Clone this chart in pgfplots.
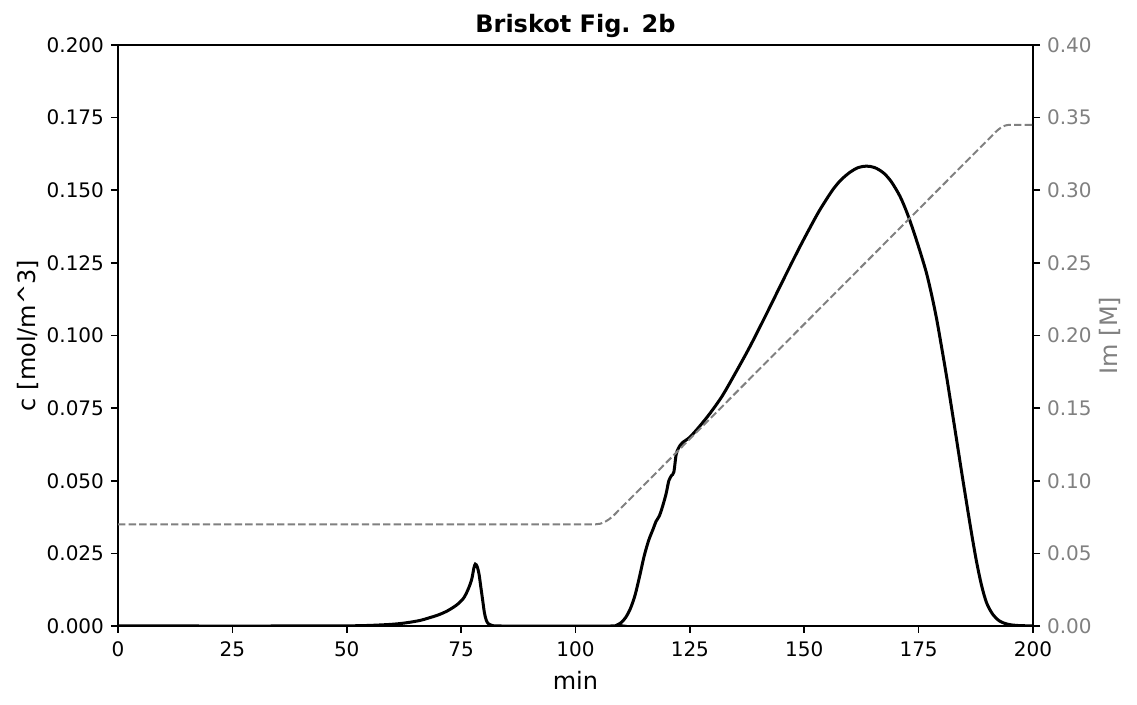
\documentclass[border=0pt]{standalone}
\usepackage{pgfplots}
\pgfplotsset{compat=1.18}
\usepackage{fontspec}
\setmainfont{DejaVu Sans}
\definecolor{mplgray}{HTML}{808080}
\begin{document}
\begin{tikzpicture}
\useasboundingbox (-59pt,-39.5pt) rectangle (509.5pt,313pt);
\begin{axis}[
  scale only axis, width=457.5pt, height=290.5pt,
  at={(0,0)}, anchor=south west,
  xmin=0, xmax=200, ymin=0, ymax=0.2,
  xtick={0,25,...,200}, ytick={0,0.025,...,0.2},
  xtick pos=bottom, ytick pos=left,
  tick align=outside, major tick length=3.5pt,
  every tick/.style={black, line width=0.8pt},
  axis line style={line width=0.8pt},
  /pgf/number format/assume math mode=true,
  yticklabel style={/pgf/number format/.cd, fixed, fixed zerofill, precision=3},
  xticklabel style={yshift=-1pt, /pgf/number format/.cd, fixed},
  scaled y ticks=false,
  tick label style={font=\normalsize},
  xlabel={min}, ylabel={c [mol/m\^{}3]},
  label style={font=\large},
  ylabel shift=-3pt,
  title={Briskot Fig. 2b}, title style={font=\large\bfseries, yshift=-6pt},
  clip=true,
]
\addplot[black, line width=1.5pt, smooth, tension=0.5] coordinates {
(0,0) (40,0) (50,0.00005) (55,0.0002) (60,0.0006) (63,0.0011) (66,0.0019)
(68,0.0028) (70,0.0038) (72,0.0052) (74,0.0072) (75.5,0.0095) (76.5,0.0125)
(77.3,0.0160) (77.8,0.0200) (78.1,0.0213) (78.5,0.0205) (78.9,0.0180)
(79.3,0.0135) (79.7,0.0090) (80.1,0.0045) (80.5,0.0020) (81,0.0007)
(82,0.0001) (83,0) (108,0) (109,0.0003) (110,0.0012) (111,0.0030)
(112,0.0060) (113,0.0105) (114,0.0170) (115,0.0240) (116,0.0295)
(117,0.0335) (117.6,0.0360) (118.3,0.0378) (119,0.0410) (119.8,0.0455)
(120.4,0.0500) (121,0.0518) (121.5,0.0530) (122,0.0590) (122.5,0.0612)
(123.3,0.0630) (125,0.0650) (127,0.0685) (129.4,0.0732) (132,0.0790)
(134.5,0.0858) (138,0.0958) (141.8,0.1076) (145.4,0.1191) (149.1,0.1307)
(152.7,0.1413) (154.5,0.1460) (156.3,0.1503) (158,0.1535) (160,0.1562)
(161.8,0.1578) (163.6,0.1583) (165.4,0.1578) (167.3,0.1560) (169,0.1530)
(170.9,0.1480) (172.4,0.1425) (173.8,0.1363) (175.3,0.1290) (176.7,0.1216)
(177.8,0.1143) (178.9,0.1060) (180,0.0962) (181.1,0.0860) (182.2,0.0751)
(183.3,0.0641) (184.4,0.0530) (185.5,0.0422) (186.6,0.0316) (187.7,0.0218)
(188.8,0.0137) (189.9,0.0078) (191.3,0.0038) (192.8,0.0016) (194.5,0.0006)
(196.4,0.0002) (200,0)
};
\end{axis}
\begin{axis}[
  scale only axis, width=457.5pt, height=290.5pt,
  at={(0,0)}, anchor=south west,
  xmin=0, xmax=200, ymin=0, ymax=0.4,
  axis x line=none, axis y line*=right,
  ytick={0,0.05,...,0.4},
  tick align=outside, major tick length=3.5pt,
  every tick/.style={black, line width=0.8pt},
  axis line style={line width=0.8pt, -},
  /pgf/number format/assume math mode=true,
  yticklabel style={color=mplgray, /pgf/number format/.cd, fixed, fixed zerofill, precision=2},
  scaled y ticks=false,
  tick label style={font=\normalsize},
  ylabel={Im [M]}, ylabel style={mplgray, font=\large},
  ylabel shift=-3pt,
]
\addplot[mplgray, line width=1pt, dash pattern=on 3.7pt off 1.6pt] coordinates {
(0,0.07) (104.4,0.07) (105.4,0.0704) (106.4,0.0716) (107.4,0.0736)
(108.4,0.0763) (191.9,0.3403) (192.4,0.3417) (192.9,0.3429)
(193.4,0.3438) (193.9,0.3445) (194.4,0.3449) (194.9,0.345) (200,0.345)
};
\end{axis}
\end{tikzpicture}
\end{document}
